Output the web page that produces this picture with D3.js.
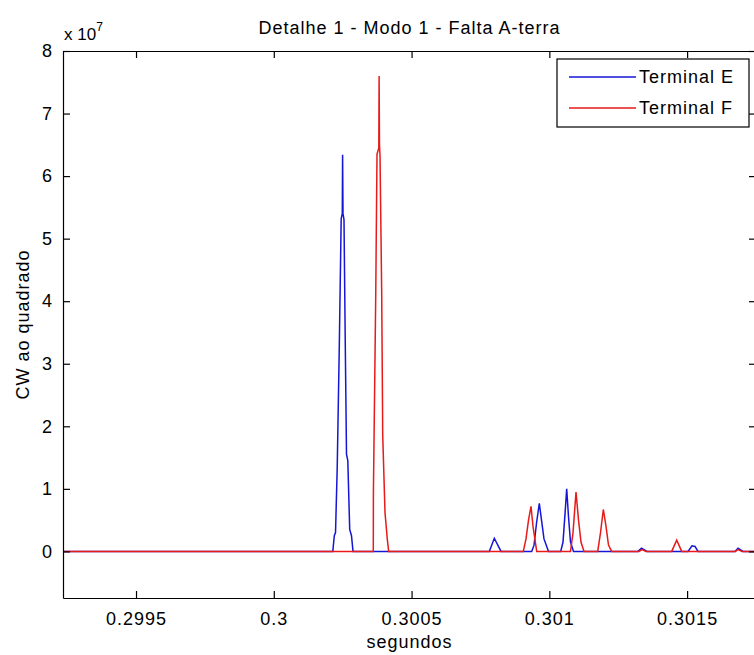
<!DOCTYPE html>
<html>
<head>
<meta charset="utf-8">
<script src="https://cdn.jsdelivr.net/npm/d3@7"></script>
<style>
  html, body { margin: 0; padding: 0; background: #ffffff; }
  svg { display: block; }
  text { font-family: "Liberation Sans", Arial, Helvetica, sans-serif; fill: #000; }
</style>
</head>
<body>
<svg id="chart" width="754" height="655"></svg>
<script>
// ---------------- data (seconds, values in units of 1e7) ----------------
const title = "Detalhe 1 - Modo 1 - Falta A-terra";
const xLabel = "segundos";
const yLabel = "CW ao quadrado";
const seriesNames = ["Terminal E", "Terminal F"];

const timeE = [0.2992,
  0.3002142, 0.3002196, 0.3002240, 0.3002301, 0.3002378, 0.3002446, 0.3002486, 0.3002497,
  0.3002512, 0.3002548, 0.3002592, 0.3002639, 0.3002686, 0.3002755, 0.3002820, 0.3002875,
  0.3007821, 0.3008003, 0.3008246,
  0.3009360, 0.3009444, 0.3009534, 0.3009636, 0.3009716, 0.3009806, 0.3009970,
  0.3010413, 0.3010496, 0.3010569, 0.3010630, 0.3010696, 0.3010768, 0.3010877,
  0.3013218, 0.3013345, 0.3013545,
  0.3015033, 0.3015178, 0.3015287, 0.3015395,
  0.3016738, 0.3016847, 0.3017029,
  0.3018];
const valueE = [0,
  0, 0.25, 0.30, 1.32, 3.30, 5.32, 5.40, 6.34,
  5.40, 5.30, 3.40, 1.55, 1.45, 0.35, 0.25, 0,
  0, 0.21, 0,
  0, 0.10, 0.45, 0.77, 0.50, 0.20, 0,
  0, 0.15, 0.60, 1.00, 0.55, 0.15, 0,
  0, 0.05, 0,
  0, 0.09, 0.08, 0,
  0, 0.05, 0,
  0];

const timeF = [0.2992,
  0.3003611, 0.3003615, 0.3003699, 0.3003746, 0.3003811, 0.3003822, 0.3003836, 0.3003855,
  0.3003916, 0.3003953, 0.3004036, 0.3004120, 0.3004170,
  0.3009055, 0.3009153, 0.3009244, 0.3009335, 0.3009407, 0.3009542,
  0.3010768, 0.3010859, 0.3010968, 0.3011059, 0.3011149, 0.3011258,
  0.3011755, 0.3011857, 0.3011959, 0.3012057, 0.3012147, 0.3012263,
  0.3013254, 0.3013363, 0.3013508,
  0.3014441, 0.3014622, 0.3014804,
  0.3016756, 0.3016847, 0.3016992,
  0.3018];
const valueF = [0,
  0, 0.94, 4.07, 6.35, 6.45, 7.60, 6.50, 6.32,
  4.13, 1.86, 0.62, 0.19, 0,
  0, 0.20, 0.50, 0.72, 0.40, 0,
  0, 0.30, 0.95, 0.50, 0.15, 0,
  0, 0.30, 0.67, 0.40, 0.10, 0,
  0, 0.03, 0,
  0, 0.18, 0,
  0, 0.03, 0,
  0];

const xTicks = [0.2995, 0.3, 0.3005, 0.301, 0.3015];
const xTickLabels = ["0.2995", "0.3", "0.3005", "0.301", "0.3015"];
const yTicks = [0, 1, 2, 3, 4, 5, 6, 7, 8];
const xDomain = [0.299235, 0.30175];
const yDomain = [-0.745, 8];

// ---------------- layout ----------------
const W = 754, H = 655;
const plot = { left: 63, top: 51, right: 756, bottom: 598 };
const tickLen = 7;
const fontSize = 18;
const letterSp = "1px";
const colorE = "#1515d8";
const colorF = "#e81a1a";

const svg = d3.select("#chart");

const x = d3.scaleLinear().domain(xDomain).range([plot.left, plot.right]);
const y = d3.scaleLinear().domain(yDomain).range([plot.bottom, plot.top]);

svg.append("defs").append("clipPath").attr("id", "clip")
  .append("rect")
  .attr("x", plot.left).attr("y", plot.top)
  .attr("width", plot.right - plot.left).attr("height", plot.bottom - plot.top);

// series
const seriesE = timeE.map((t, i) => ({ t, v: valueE[i] }));
const seriesF = timeF.map((t, i) => ({ t, v: valueF[i] }));
const line = d3.line().x(d => x(d.t)).y(d => y(d.v));

const g = svg.append("g").attr("clip-path", "url(#clip)");
g.append("path").datum(seriesE)
  .attr("d", line).attr("fill", "none")
  .attr("stroke", colorE).attr("stroke-width", 1.5).attr("stroke-linejoin", "miter");
g.append("path").datum(seriesF)
  .attr("d", line).attr("fill", "none")
  .attr("stroke", colorF).attr("stroke-width", 1.5).attr("stroke-linejoin", "miter");

// axes (MATLAB-style box with inward ticks)
const axBottom = d3.axisBottom(x).tickValues(xTicks)
  .tickFormat((d, i) => xTickLabels[i]).tickSizeInner(-tickLen).tickSizeOuter(0).tickPadding(14);
const axTop = d3.axisTop(x).tickValues(xTicks).tickFormat("").tickSizeInner(-tickLen).tickSizeOuter(0);
const axLeft = d3.axisLeft(y).tickValues(yTicks).tickFormat(d3.format("d"))
  .tickSizeInner(-tickLen).tickSizeOuter(0).tickPadding(10);
const axRight = d3.axisRight(y).tickValues(yTicks).tickFormat("").tickSizeInner(-tickLen).tickSizeOuter(0);

function styleAxis(sel) {
  sel.select(".domain").attr("stroke", "#000").attr("stroke-width", 1.2);
  sel.selectAll(".tick line").attr("stroke", "#000").attr("stroke-width", 1.2);
  sel.selectAll(".tick text")
    .style("font-family", '"Liberation Sans", Arial, sans-serif')
    .style("font-size", fontSize + "px")
    .style("letter-spacing", letterSp)
    .attr("fill", "#000");
}

svg.append("g").attr("transform", `translate(0,${plot.bottom})`).call(axBottom).call(styleAxis);
svg.append("g").attr("transform", `translate(0,${plot.top})`).call(axTop).call(styleAxis);
svg.append("g").attr("transform", `translate(${plot.left},0)`).call(axLeft).call(styleAxis);
svg.append("g").attr("transform", `translate(${plot.right},0)`).call(axRight).call(styleAxis);

// exponent label
const expo = svg.append("text")
  .attr("x", plot.left + 1).attr("y", 40)
  .style("font-size", "17px");
expo.append("tspan").text("x 10");
expo.append("tspan").attr("dy", -9).style("font-size", "12px").text("7");

// title
svg.append("text")
  .attr("x", (plot.left + plot.right) / 2).attr("y", 34)
  .attr("text-anchor", "middle")
  .style("font-size", fontSize + "px").style("letter-spacing", letterSp)
  .text(title);

// x label
svg.append("text")
  .attr("x", (plot.left + plot.right) / 2).attr("y", 648)
  .attr("text-anchor", "middle")
  .style("font-size", fontSize + "px").style("letter-spacing", letterSp)
  .text(xLabel);

// y label
svg.append("text")
  .attr("transform", `translate(29,${(plot.top + plot.bottom) / 2}) rotate(-90)`)
  .attr("text-anchor", "middle")
  .style("font-size", fontSize + "px").style("letter-spacing", letterSp)
  .text(yLabel);

// legend
const legend = { x: 557, y: 59, w: 192, h: 68 };
const lg = svg.append("g");
lg.append("rect")
  .attr("x", legend.x).attr("y", legend.y)
  .attr("width", legend.w).attr("height", legend.h)
  .attr("fill", "#fff").attr("stroke", "#000").attr("stroke-width", 1.2);
const legendItems = [
  { name: seriesNames[0], color: colorE, cy: 77 },
  { name: seriesNames[1], color: colorF, cy: 108 }
];
legendItems.forEach(it => {
  lg.append("line")
    .attr("x1", 569).attr("x2", 636)
    .attr("y1", it.cy).attr("y2", it.cy)
    .attr("stroke", it.color).attr("stroke-width", 1.5);
  lg.append("text")
    .attr("x", 639).attr("y", it.cy)
    .attr("dy", "0.36em")
    .style("font-size", fontSize + "px").style("letter-spacing", letterSp)
    .text(it.name);
});
</script>
</body>
</html>
